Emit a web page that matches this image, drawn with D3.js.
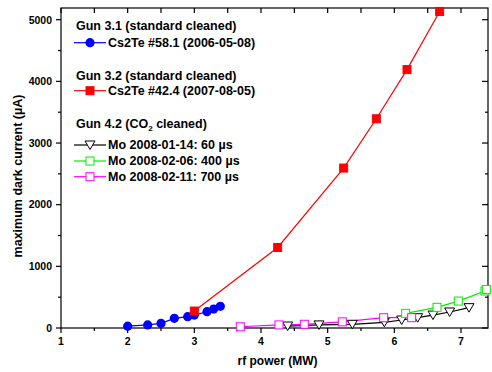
<!DOCTYPE html>
<html><head><meta charset="utf-8">
<script src="https://cdn.jsdelivr.net/npm/d3@7"></script>
<style>body{margin:0;background:#fff}svg{display:block}text{font-family:Arial,"Liberation Sans",sans-serif;font-weight:bold}</style>
</head><body>
<script>
const xTicks = [1,2,3,4,5,6,7];
const yTicks = [0,1000,2000,3000,4000,5000];
const gun31X = [2.0,2.3,2.5,2.7,2.9,3.0,3.19,3.29,3.39];
const gun31Y = [30,50,75,157,183,210,264,307,351];
const gun32X = [3.0,4.25,5.24,5.73,6.19,6.68];
const gun32Y = [275,1306,2594,3393,4191,5134];
const mo0114X = [4.40,4.87,5.37,5.85,6.11,6.35,6.58,6.83,7.12];
const mo0114Y = [32,50,60,92,130,167,210,260,330];
const mo0206X = [6.17,6.64,6.96,7.36,7.38];
const mo0206Y = [238,335,437,600,625];
const mo0211X = [3.69,4.27,4.65,5.22,5.84,6.26];
const mo0211Y = [20,50,60,100,167,167];
const legendTitles = ["Gun 3.1 (standard cleaned)","Gun 3.2 (standard cleaned)","Gun 4.2 (CO"];
const seriesNames = ["Cs2Te #58.1 (2006-05-08)","Cs2Te #42.4 (2007-08-05)","Mo 2008-01-14: 60 µs","Mo 2008-02-06: 400 µs","Mo 2008-02-11: 700 µs"];

const W=492,H=372, L=61,R=488,T=8,B=328;
const svg=d3.select("body").append("svg").attr("width",W).attr("height",H);
const x=d3.scaleLinear().domain([1,7.405]).range([L,R]);
const y=d3.scaleLinear().domain([0,5190]).range([B,T]);

svg.append("rect").attr("x",L).attr("y",T).attr("width",R-L).attr("height",B-T).attr("fill","none").attr("stroke","#000").attr("stroke-width",1.2);

const xMinor=d3.range(1.5,7.4,1);
const yMinor=d3.range(500,5190,1000);
const ax=svg.append("g").attr("stroke","#000").attr("stroke-width",1.2);
xTicks.forEach(v=>ax.append("line").attr("x1",x(v)).attr("x2",x(v)).attr("y1",B).attr("y2",B+5));
xMinor.forEach(v=>ax.append("line").attr("x1",x(v)).attr("x2",x(v)).attr("y1",B).attr("y2",B+3));
xTicks.concat(xMinor).forEach(v=>ax.append("line").attr("x1",x(v)).attr("x2",x(v)).attr("y1",T).attr("y2",T+5));
yTicks.forEach(v=>ax.append("line").attr("x1",L-5).attr("x2",L).attr("y1",y(v)).attr("y2",y(v)));
yMinor.forEach(v=>ax.append("line").attr("x1",L-3).attr("x2",L).attr("y1",y(v)).attr("y2",y(v)));
yTicks.forEach(v=>ax.append("line").attr("x1",R-6).attr("x2",R).attr("y1",y(v)).attr("y2",y(v)));
yMinor.forEach(v=>ax.append("line").attr("x1",R-3).attr("x2",R).attr("y1",y(v)).attr("y2",y(v)));

svg.selectAll(".xl").data(xTicks).enter().append("text").attr("x",d=>x(d)).attr("y",B+17).attr("text-anchor","middle").attr("font-size",10.5).text(d=>d);
svg.selectAll(".yl").data(yTicks).enter().append("text").attr("x",L-9).attr("y",d=>y(d)+3.8).attr("text-anchor","end").attr("font-size",10.5).text(d=>d);
svg.append("text").attr("x",(L+R)/2+3).attr("y",365).attr("text-anchor","middle").attr("font-size",12).text("rf power (MW)");
svg.append("text").attr("transform","translate(22,176) rotate(-90)").attr("text-anchor","middle").attr("font-size",12.5).text("maximum dark current (µA)");

const line=d3.line().x(d=>x(d[0])).y(d=>y(d[1]));
function zip(a,b){return a.map((v,i)=>[v,b[i]]);}
const series=[
 {X:gun31X,Y:gun31Y,c:"#0000ff",m:"circle",fill:true},
 {X:gun32X,Y:gun32Y,c:"#ff0000",m:"square",fill:true},
 {X:mo0114X,Y:mo0114Y,c:"#000000",m:"tri",fill:false},
 {X:mo0206X,Y:mo0206Y,c:"#00ee00",m:"square",fill:false},
 {X:mo0211X,Y:mo0211Y,c:"#ff00ff",m:"square",fill:false}
];
function marker(g,m,c,fill,cx,cy){
  if(m==="circle") g.append("circle").attr("cx",cx).attr("cy",cy).attr("r",4.6).attr("fill",c);
  else if(m==="square") g.append("rect").attr("x",cx-4).attr("y",cy-4).attr("width",8).attr("height",8).attr("fill",fill?c:"#fff").attr("stroke",c).attr("stroke-width",1);
  else g.append("path").attr("d",`M${cx-5},${cy-4}L${cx+5},${cy-4}L${cx},${cy+4.5}Z`).attr("fill","#fff").attr("stroke",c).attr("stroke-width",1);
}
const plot=svg.append("g");
series.forEach(s=>{
  plot.append("path").attr("d",line(zip(s.X,s.Y))).attr("fill","none").attr("stroke",s.c).attr("stroke-width",1.2);
});
series.forEach(s=>{
  const g=plot.append("g");
  zip(s.X,s.Y).forEach(p=>marker(g,s.m,s.c,s.fill,x(p[0]),y(p[1])));
});

const lg=svg.append("g");
const fs=12.5;
lg.append("text").attr("x",76).attr("y",30).attr("font-size",fs).text(legendTitles[0]);
lg.append("text").attr("x",76).attr("y",80).attr("font-size",fs).text(legendTitles[1]);
const t3=lg.append("text").attr("x",76).attr("y",128).attr("font-size",fs);
t3.append("tspan").text(legendTitles[2]);
t3.append("tspan").attr("font-size",8).attr("dy",3).text("2");
t3.append("tspan").attr("dy",-3).text(" cleaned)");
const ly=[42.7,90.7,145,161,176.7];
series.forEach((s,i)=>{
  lg.append("line").attr("x1",74).attr("x2",106).attr("y1",ly[i]).attr("y2",ly[i]).attr("stroke",s.c).attr("stroke-width",1.2);
  marker(lg,s.m,s.c,s.fill,90,ly[i]);
  lg.append("text").attr("x",108).attr("y",ly[i]+4).attr("font-size",fs).text(seriesNames[i]);
});
</script>
</body></html>
